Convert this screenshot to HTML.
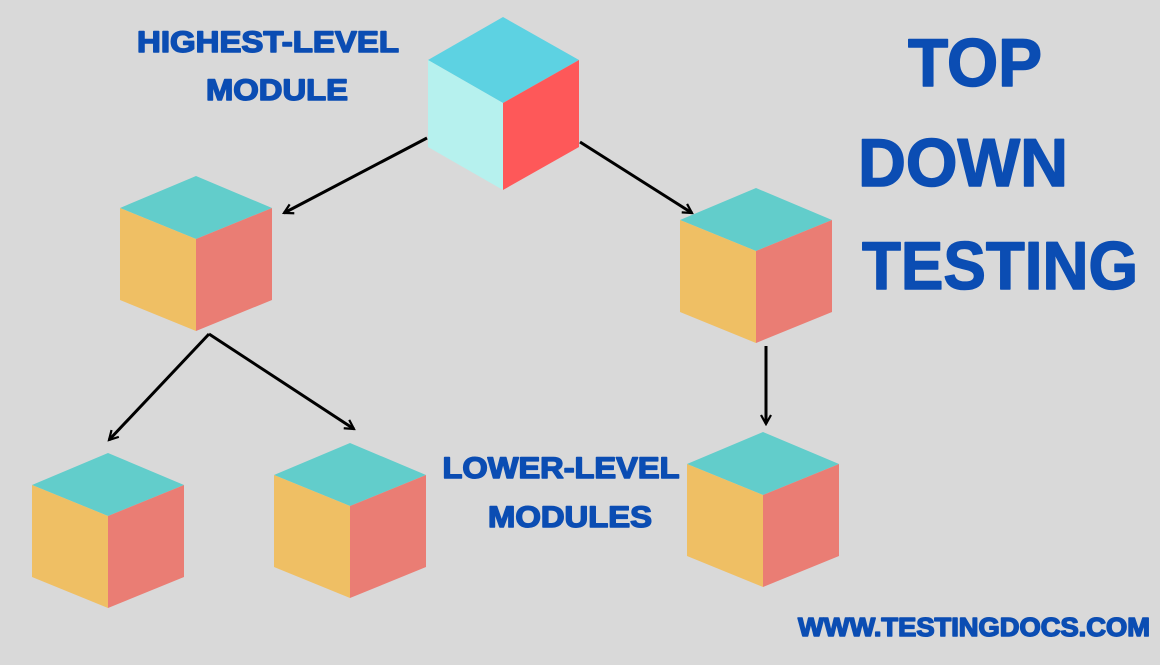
<!DOCTYPE html>
<html><head><style>
html,body{margin:0;padding:0;background:#d9d9d9;}
svg{display:block}
text{font-family:"Liberation Sans",sans-serif;font-weight:bold;fill:#0b4db3;stroke:#0b4db3;stroke-width:1.5;stroke-linejoin:round}
</style></head><body>
<svg width="1160" height="665" viewBox="0 0 1160 665">
<rect width="1160" height="665" fill="#d9d9d9"/>
<defs>
<marker id="a" viewBox="0 0 12 12" refX="10" refY="6" markerWidth="12" markerHeight="12" markerUnits="userSpaceOnUse" orient="auto">
<path d="M1,1 L10,6 L1,11" fill="none" stroke="#000" stroke-width="2.2"/>
</marker>
</defs>
<!-- top cube -->
<polygon points="503,17 579,60 503,103 428,60" fill="#5dd2e2"/>
<polygon points="428,60 503,103 503,190 428,147" fill="#b6f1ee"/>
<polygon points="579,60 503,103 503,190 579,147" fill="#fe5859"/>
<g id="cubes">
<g transform="translate(196,176)"><polygon points="0,0 76,32 0,63 -76,32" fill="#62cdcb"/><polygon points="-76,32 0,63 0,155 -76,124" fill="#efbf64"/><polygon points="76,32 0,63 0,155 76,124" fill="#ea7d74"/></g>
<g transform="translate(108,453)"><polygon points="0,0 76,32 0,63 -76,32" fill="#62cdcb"/><polygon points="-76,32 0,63 0,155 -76,124" fill="#efbf64"/><polygon points="76,32 0,63 0,155 76,124" fill="#ea7d74"/></g>
<g transform="translate(350,443)"><polygon points="0,0 76,32 0,63 -76,32" fill="#62cdcb"/><polygon points="-76,32 0,63 0,155 -76,124" fill="#efbf64"/><polygon points="76,32 0,63 0,155 76,124" fill="#ea7d74"/></g>
<g transform="translate(756,188)"><polygon points="0,0 76,32 0,63 -76,32" fill="#62cdcb"/><polygon points="-76,32 0,63 0,155 -76,124" fill="#efbf64"/><polygon points="76,32 0,63 0,155 76,124" fill="#ea7d74"/></g>
<g transform="translate(763,432)"><polygon points="0,0 76,32 0,63 -76,32" fill="#62cdcb"/><polygon points="-76,32 0,63 0,155 -76,124" fill="#efbf64"/><polygon points="76,32 0,63 0,155 76,124" fill="#ea7d74"/></g>
</g>
<g stroke="#000" stroke-width="3" fill="none" marker-end="url(#a)">
<line x1="427" y1="138" x2="284" y2="213"/>
<line x1="580" y1="142" x2="692" y2="213"/>
<line x1="209" y1="334" x2="109" y2="440"/>
<line x1="209" y1="334" x2="354" y2="429"/>
<line x1="766" y1="346" x2="766" y2="424"/>
</g>
<text x="268" y="52" font-size="30" text-anchor="middle" textLength="262" lengthAdjust="spacingAndGlyphs">HIGHEST-LEVEL</text>
<text x="277" y="100" font-size="30" text-anchor="middle" textLength="142" lengthAdjust="spacingAndGlyphs">MODULE</text>
<text x="975" y="86" font-size="68" text-anchor="middle" textLength="134" lengthAdjust="spacingAndGlyphs">TOP</text>
<text x="963" y="186" font-size="68" text-anchor="middle" textLength="210" lengthAdjust="spacingAndGlyphs">DOWN</text>
<text x="1000" y="289" font-size="68" text-anchor="middle" textLength="276" lengthAdjust="spacingAndGlyphs">TESTING</text>
<text x="561" y="478" font-size="30" text-anchor="middle" textLength="237" lengthAdjust="spacingAndGlyphs">LOWER-LEVEL</text>
<text x="570" y="527" font-size="30" text-anchor="middle" textLength="164" lengthAdjust="spacingAndGlyphs">MODULES</text>
<text x="974" y="636" font-size="26" text-anchor="middle" textLength="352" lengthAdjust="spacingAndGlyphs">WWW.TESTINGDOCS.COM</text>
</svg>
</body></html>
